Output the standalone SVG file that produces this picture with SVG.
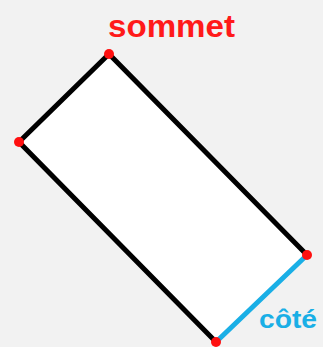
<svg xmlns="http://www.w3.org/2000/svg" width="323" height="347" viewBox="0 0 323 347">
<style>
.edge{fill:none;stroke:#000;stroke-width:5;stroke-linecap:round}
.side{fill:none;stroke:#1AAFE6;stroke-width:5;stroke-linecap:round}
.dot{fill:#FF1010}
.lbl{font-family:"Liberation Sans",Arial,sans-serif;font-weight:bold}
</style>
<rect width="323" height="347" fill="#F2F2F2"/>
<g id="rectangle">
<polygon points="109,54 19,142 216,342 307,255" fill="#FFFFFF" stroke="none"/>
</g>
<g id="connectors">
<line class="edge" x1="109" y1="54" x2="19" y2="142"/>
<line class="edge" x1="19" y1="142" x2="216" y2="342"/>
<line class="edge" x1="109" y1="54" x2="307" y2="255"/>
<line class="side" x1="307" y1="255" x2="216" y2="342"/>
</g>
<g id="vertices">
<circle class="dot" cx="109" cy="54" r="5"/>
<circle class="dot" cx="19" cy="142" r="5"/>
<circle class="dot" cx="307" cy="255" r="5"/>
<circle class="dot" cx="216" cy="342" r="5"/>
</g>
<g id="label-sommet">
<text class="lbl" x="108" y="37" font-size="32" fill="#FF1A1A" textLength="127" lengthAdjust="spacingAndGlyphs">sommet</text>
</g>
<g id="label-cote">
<text class="lbl" x="259" y="328" font-size="26" fill="#1AAFE6" textLength="58" lengthAdjust="spacingAndGlyphs">côté</text>
</g>
</svg>
